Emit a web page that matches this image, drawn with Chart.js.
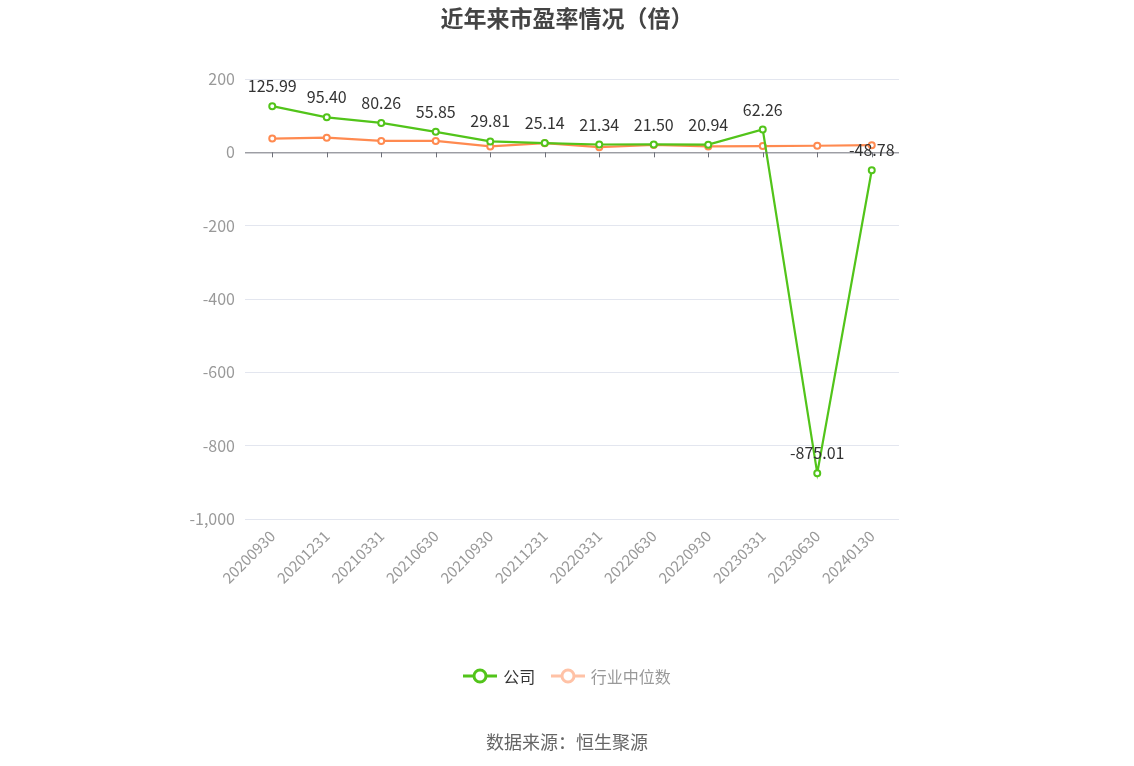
<!DOCTYPE html>
<html>
<head>
<meta charset="utf-8">
<script src="https://cdn.jsdelivr.net/npm/chart.js@4/dist/chart.umd.min.js"></script>
<style>
  html, body { margin: 0; padding: 0; background: #fff; }
  body { font-family: "Noto Sans CJK SC", "Noto Sans", sans-serif; }
  .wrap { position: relative; width: 1134px; height: 766px; }
  .title { position: absolute; left: 0; right: 0; top: 0; text-align: center;
           font-size: 23px; font-weight: bold; color: #444; }
  .legend { position: absolute; left: 0; right: 0; top: 664px; text-align: center; font-size: 16px; }
  .legend span.item { display: inline-flex; align-items: center; margin: 0 6px; }
  .legend canvas { margin-right: 6px; }
  .source { position: absolute; left: 0; right: 0; top: 728px; text-align: center;
            font-size: 18px; color: #666; }
</style>
</head>
<body>
<div class="wrap">
  <canvas id="chart" width="1134" height="766"></canvas>
  <div class="title">近年来市盈率情况（倍）</div>
  <div class="legend">
    <span class="item"><canvas id="lg1" width="34" height="20"></canvas><span style="color:#333">公司</span></span>
    <span class="item"><canvas id="lg2" width="34" height="20"></canvas><span style="color:#999">行业中位数</span></span>
  </div>
  <div class="source">数据来源：恒生聚源</div>
</div>
<script>
// 报告期
const periods = ['20200930', '20201231', '20210331', '20210630', '20210930', '20211231',
                 '20220331', '20220630', '20220930', '20230331', '20230630', '20240130'];
// 公司市盈率
const companyPE = [125.99, 95.40, 80.26, 55.85, 29.81, 25.14, 21.34, 21.50, 20.94, 62.26, -875.01, -48.78];
// 行业中位数
const industryPE = [37.6, 40, 31, 31, 16, 25, 14, 20, 16, 17, 18, 19.6];
const yTicks = [200, 0, -200, -400, -600, -800, -1000];

const GREEN = '#52c41a';
const ORANGE = '#ff8a50';
const FONT = '"Noto Sans CJK SC", "Noto Sans", sans-serif';

function drawIcon(id, color) {
  const c = document.getElementById(id).getContext('2d');
  c.strokeStyle = color; c.lineWidth = 3;
  c.beginPath(); c.moveTo(0, 10); c.lineTo(34, 10); c.stroke();
  c.fillStyle = '#fff';
  c.beginPath(); c.arc(17, 10, 6, 0, Math.PI * 2); c.fill(); c.stroke();
}
drawIcon('lg1', GREEN);
drawIcon('lg2', '#ffc2a6');

// value labels over the company line + zero axis with ticks
const extras = {
  id: 'extras',
  afterDatasetsDraw(chart) {
    const ctx = chart.ctx;
    const x = chart.scales.x, y = chart.scales.y;
    const y0 = y.getPixelForValue(0);
    ctx.save();
    ctx.strokeStyle = '#6e7079';
    ctx.lineWidth = 1;
    ctx.beginPath();
    ctx.moveTo(chart.chartArea.left, y0 + 0.5);
    ctx.lineTo(chart.chartArea.right, y0 + 0.5);
    periods.forEach((p, i) => {
      const px = Math.round(x.getPixelForValue(i)) + 0.5;
      ctx.moveTo(px, y0);
      ctx.lineTo(px, y0 + 5);
    });
    ctx.stroke();

    const meta = chart.getDatasetMeta(0);
    ctx.fillStyle = '#333';
    ctx.font = '16px ' + FONT;
    ctx.textAlign = 'center';
    ctx.textBaseline = 'middle';
    meta.data.forEach((pt, i) => {
      ctx.fillText(companyPE[i].toFixed(2), pt.x, pt.y - 20);
    });
    ctx.restore();
  }
};

new Chart(document.getElementById('chart'), {
  type: 'line',
  data: {
    labels: periods,
    datasets: [
      {
        label: '公司', data: companyPE, borderColor: GREEN, backgroundColor: '#fff',
        borderWidth: 2.2, pointRadius: 3, pointBorderWidth: 2, pointBackgroundColor: '#fff',
        pointBorderColor: GREEN, tension: 0
      },
      {
        label: '行业中位数', data: industryPE, borderColor: ORANGE, backgroundColor: '#fff',
        borderWidth: 2.2, pointRadius: 3, pointBorderWidth: 2, pointBackgroundColor: '#fff',
        pointBorderColor: ORANGE, tension: 0
      }
    ]
  },
  options: {
    responsive: false,
    animation: false,
    layout: { padding: { left: 0, right: 235, top: 79, bottom: 147 } },
    plugins: { legend: { display: false }, tooltip: { enabled: false }, title: { display: false } },
    scales: {
      x: {
        offset: true,
        grid: { display: false },
        border: { display: false },
        ticks: {
          color: '#999', minRotation: 45, maxRotation: 45, padding: 0,
          font: { size: 15, family: FONT }
        },
        afterFit(s) { s.height = 100; }
      },
      y: {
        min: -1000, max: 200,
        afterBuildTicks(s) { s.ticks = yTicks.map(v => ({ value: v })); },
        grid: {
          color: c => (c.tick && c.tick.value === 0) ? 'rgba(0,0,0,0)' : '#e3e6ef',
          drawTicks: false
        },
        border: { display: false },
        ticks: {
          color: '#999', padding: 10,
          font: { size: 16, family: FONT },
          callback: v => v.toLocaleString('en-US')
        },
        afterFit(s) { s.width = 245; }
      }
    }
  },
  plugins: [extras]
});
</script>
</body>
</html>
